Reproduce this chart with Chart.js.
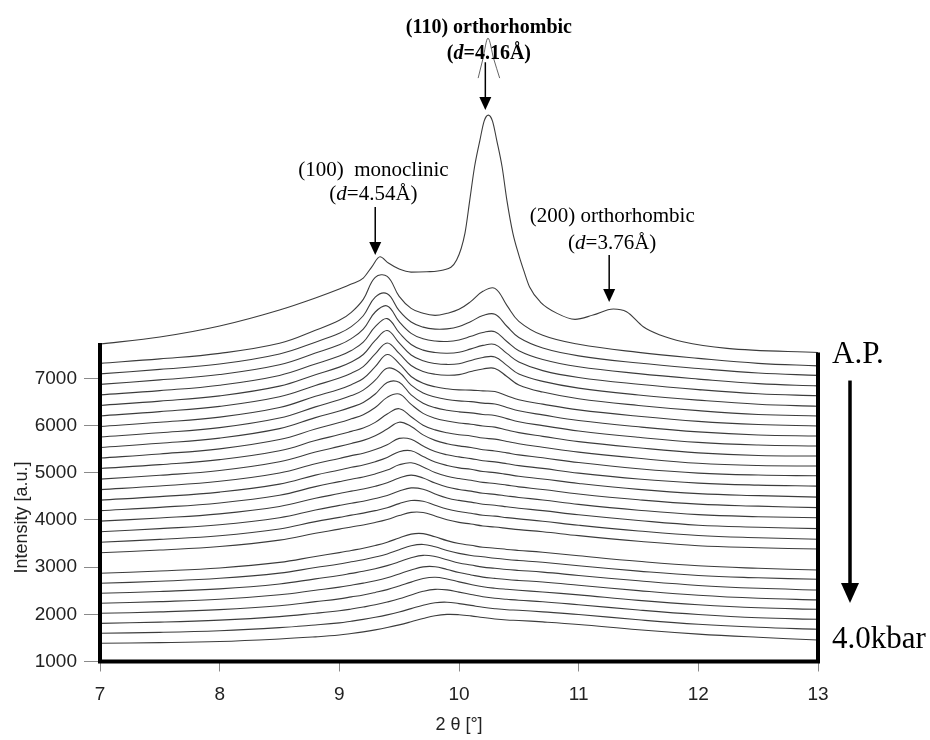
<!DOCTYPE html>
<html>
<head>
<meta charset="utf-8">
<script src="https://cdn.jsdelivr.net/npm/chart.js@4.4.0/dist/chart.umd.min.js"></script>
<style>
html, body { margin: 0; padding: 0; background: #fff; }
#wrap { width: 930px; height: 740px; }
</style>
</head>
<body>
<div id="wrap"><canvas id="xrd" width="930" height="740"></canvas></div>
<script>
// 2 theta grid shared by the stacked scans (deg)
const theta = [7, 7.5, 8, 8.5, 8.8, 9.0, 9.1, 9.2, 9.3, 9.4, 9.5, 9.6, 9.7, 9.8, 9.9, 10.0, 10.1, 10.2, 10.3, 10.4, 10.5, 10.7, 11.0, 11.5, 12, 12.5, 13];

// ambient pressure scan (top), sampled closer round the sharp (110) peak
const apTheta = [7, 7.5, 8, 8.5, 8.8, 9.0, 9.1, 9.2, 9.27, 9.34, 9.41, 9.5, 9.6, 9.73, 9.87, 9.98, 10.05, 10.09, 10.13, 10.175, 10.21, 10.245, 10.28, 10.315, 10.36, 10.4, 10.45, 10.5, 10.54, 10.59, 10.68, 10.82, 10.97, 11.12, 11.29, 11.4, 11.54, 11.68, 11.87, 12.24, 13];
const apIntensity = [7728, 7876, 8109, 8448, 8703, 8893, 8999, 9126, 9359, 9578, 9444, 9317, 9253, 9260, 9296, 9508, 10080, 10779, 11485, 12051, 12453, 12580, 12453, 12051, 11485, 10779, 10080, 9614, 9296, 8936, 8618, 8378, 8251, 8342, 8470, 8412, 8094, 7919, 7777, 7637, 7548];

// faint peak tip showing through the (110) label
const tipTheta = [10.16, 10.2, 10.242, 10.29, 10.34];
const tipIntensity = [13364, 13773, 14212, 13773, 13364];

// pressure steps, top to bottom (last one = 4.0 kbar)
const scan02 = [7319, 7414, 7531, 7743, 8018, 8230, 8400, 8675, 9141, 9163, 8739, 8484, 8379, 8336, 8379, 8463, 8633, 8845, 8908, 8548, 8209, 7912, 7722, 7552, 7425, 7319, 7266];
const scan03 = [7096, 7191, 7304, 7518, 7768, 7956, 8096, 8327, 8721, 8793, 8435, 8194, 8086, 8045, 8050, 8100, 8208, 8331, 8361, 8105, 7865, 7643, 7477, 7325, 7210, 7113, 7064];
const scan04 = [6873, 6968, 7081, 7288, 7536, 7712, 7843, 8043, 8407, 8536, 8202, 7954, 7839, 7791, 7782, 7814, 7892, 7973, 7990, 7782, 7587, 7401, 7248, 7100, 6985, 6888, 6841];
const scan05 = [6650, 6741, 6856, 7063, 7305, 7474, 7591, 7767, 8095, 8267, 7968, 7718, 7599, 7548, 7534, 7553, 7625, 7699, 7720, 7529, 7349, 7165, 7019, 6875, 6762, 6675, 6631];
const scan06 = [6427, 6518, 6630, 6836, 7078, 7239, 7347, 7506, 7804, 8014, 7751, 7495, 7372, 7315, 7296, 7311, 7381, 7444, 7455, 7275, 7092, 6936, 6794, 6649, 6539, 6452, 6410];
const scan07 = [6204, 6295, 6407, 6611, 6850, 7007, 7109, 7249, 7518, 7751, 7528, 7272, 7147, 7088, 7066, 7079, 7147, 7200, 7211, 7041, 6861, 6710, 6568, 6426, 6316, 6236, 6204];
const scan08 = [5981, 6070, 6180, 6384, 6621, 6771, 6867, 6998, 7248, 7505, 7314, 7041, 6896, 6822, 6780, 6757, 6752, 6735, 6721, 6634, 6549, 6454, 6333, 6197, 6089, 6023, 5992];
const scan09 = [5758, 5847, 5957, 6161, 6396, 6546, 6635, 6752, 6962, 7216, 7131, 6856, 6692, 6606, 6553, 6523, 6508, 6476, 6457, 6385, 6313, 6226, 6108, 5974, 5866, 5800, 5779];
const scan10 = [5535, 5624, 5734, 5935, 6169, 6308, 6391, 6489, 6669, 6914, 6917, 6650, 6474, 6380, 6325, 6291, 6270, 6236, 6215, 6147, 6082, 5999, 5885, 5751, 5643, 5588, 5567];
const scan11 = [5312, 5399, 5507, 5704, 5927, 6064, 6143, 6230, 6382, 6598, 6668, 6448, 6259, 6155, 6096, 6054, 6028, 5990, 5967, 5905, 5850, 5772, 5660, 5530, 5422, 5365, 5354];
const scan12 = [5089, 5172, 5278, 5466, 5682, 5809, 5877, 5947, 6068, 6244, 6358, 6187, 6009, 5909, 5848, 5807, 5780, 5735, 5712, 5663, 5615, 5542, 5437, 5307, 5201, 5153, 5142];
const scan13 = [4866, 4947, 5048, 5233, 5438, 5559, 5622, 5686, 5784, 5926, 6072, 5981, 5803, 5686, 5616, 5570, 5536, 5489, 5461, 5421, 5379, 5317, 5216, 5086, 4993, 4951, 4936];
const scan14 = [4643, 4719, 4819, 4995, 5192, 5304, 5363, 5414, 5491, 5594, 5728, 5711, 5567, 5450, 5380, 5336, 5300, 5255, 5230, 5192, 5152, 5092, 4993, 4868, 4781, 4738, 4717];
const scan15 = [4420, 4494, 4590, 4759, 4950, 5058, 5115, 5164, 5234, 5323, 5446, 5467, 5346, 5229, 5155, 5104, 5073, 5026, 5003, 4965, 4926, 4869, 4774, 4647, 4558, 4515, 4484];
const scan16 = [4197, 4267, 4360, 4523, 4706, 4812, 4864, 4911, 4975, 5057, 5168, 5212, 5123, 5006, 4926, 4877, 4841, 4797, 4773, 4737, 4701, 4646, 4551, 4428, 4335, 4292, 4261];
const scan17 = [3974, 4042, 4129, 4285, 4459, 4559, 4610, 4654, 4714, 4788, 4889, 4949, 4889, 4781, 4697, 4646, 4610, 4565, 4542, 4508, 4476, 4423, 4330, 4207, 4112, 4069, 4046];
const scan18 = [3751, 3817, 3897, 4048, 4211, 4308, 4355, 4397, 4455, 4520, 4613, 4679, 4652, 4552, 4467, 4414, 4378, 4334, 4313, 4279, 4247, 4198, 4109, 3988, 3889, 3846, 3815];
const scan19 = [3528, 3589, 3666, 3808, 3965, 4054, 4102, 4145, 4198, 4259, 4346, 4412, 4397, 4312, 4232, 4179, 4143, 4100, 4081, 4049, 4022, 3973, 3888, 3767, 3670, 3623, 3592];
const scan20 = [3305, 3362, 3436, 3572, 3718, 3805, 3852, 3894, 3947, 4011, 4093, 4161, 4159, 4083, 4004, 3949, 3913, 3873, 3850, 3822, 3794, 3750, 3667, 3549, 3453, 3411, 3383];
const scan21 = [2869, 2918, 2981, 3100, 3227, 3308, 3354, 3399, 3458, 3528, 3619, 3700, 3710, 3642, 3562, 3500, 3462, 3422, 3401, 3375, 3354, 3314, 3240, 3123, 3028, 2975, 2939];
const scan22 = [2657, 2701, 2763, 2873, 2992, 3066, 3113, 3157, 3214, 3280, 3369, 3452, 3481, 3430, 3352, 3291, 3248, 3219, 3187, 3161, 3140, 3102, 3030, 2916, 2822, 2774, 2742];
const scan23 = [2445, 2485, 2540, 2644, 2752, 2822, 2867, 2911, 2966, 3032, 3112, 3199, 3250, 3225, 3157, 3089, 3045, 3000, 2975, 2949, 2930, 2894, 2824, 2710, 2612, 2551, 2515];
const scan24 = [2233, 2269, 2320, 2415, 2511, 2576, 2617, 2661, 2712, 2775, 2856, 2939, 3006, 3009, 2951, 2886, 2835, 2788, 2761, 2737, 2718, 2684, 2617, 2502, 2403, 2339, 2305];
const scan25 = [2021, 2051, 2099, 2182, 2269, 2328, 2369, 2411, 2464, 2523, 2599, 2682, 2758, 2786, 2750, 2688, 2633, 2585, 2553, 2530, 2510, 2474, 2411, 2296, 2203, 2138, 2106];
const scan26 = [1809, 1834, 1877, 1951, 2023, 2076, 2112, 2154, 2201, 2260, 2328, 2411, 2487, 2529, 2517, 2470, 2421, 2373, 2339, 2318, 2298, 2267, 2203, 2091, 1995, 1926, 1894];
const scan27 = [1598, 1617, 1653, 1717, 1774, 1818, 1854, 1893, 1937, 1988, 2049, 2121, 2193, 2246, 2257, 2227, 2189, 2149, 2119, 2096, 2085, 2051, 1996, 1884, 1789, 1725, 1683];
const scan28 = [1386, 1399, 1424, 1477, 1522, 1560, 1592, 1628, 1670, 1719, 1776, 1842, 1912, 1971, 1998, 1992, 1967, 1931, 1901, 1880, 1869, 1839, 1784, 1672, 1581, 1513, 1456];

const xTickValues = [7, 8, 9, 10, 11, 12, 13];
const yTickValues = [1000, 2000, 3000, 4000, 5000, 6000, 7000];

const scans = [scan02, scan03, scan04, scan05, scan06, scan07, scan08, scan09, scan10,
  scan11, scan12, scan13, scan14, scan15, scan16, scan17, scan18, scan19, scan20,
  scan21, scan22, scan23, scan24, scan25, scan26, scan27, scan28];

// peak labels, placed in data units (2theta, intensity)
const peakMarks = [
  { x: 10.22, from: 13700, to: 12690, tx: 10.25, lines: [14318, 13767], bold: true,
    text: [[['(110) orthorhombic']], [['('], ['d', 1], ['=4.16Å)']]] },
  { x: 9.30, from: 10631, to: 9614, tx: 9.285, lines: [11288, 10779], bold: false,
    text: [[['(100)  monoclinic']], [['('], ['d', 1], ['=4.54Å)']]] },
  { x: 11.255, from: 9614, to: 8618, tx: 11.28, lines: [10313, 9741], bold: false,
    text: [[['(200) orthorhombic']], [['('], ['d', 1], ['=3.76Å)']]] }
];

const lineColor = '#3c3c3c';
const sans = '"Liberation Sans", Arial, sans-serif';
const serif = '"Liberation Serif", "Times New Roman", serif';

function toPoints(xs, ys) {
  return xs.map((t, i) => ({ x: t, y: ys[i] }));
}

const datasets = [
  { data: toPoints(apTheta, apIntensity), cubicInterpolationMode: 'monotone' },
  { data: toPoints(tipTheta, tipIntensity), cubicInterpolationMode: 'monotone', borderWidth: 0.8 }
].concat(scans.map(s => ({ data: toPoints(theta, s), tension: 0.4 })));

datasets.forEach(d => {
  d.borderColor = lineColor;
  if (!d.borderWidth) d.borderWidth = 1.1;
  d.pointRadius = 0;
  d.fill = false;
  d.clip = false;
});

function drawRuns(ctx, runs, cx, baseline, size, bold) {
  const w = bold ? 'bold ' : '';
  let total = 0;
  const fonts = runs.map(r => (r[1] ? 'italic ' : '') + w + size + 'px ' + serif);
  runs.forEach((r, i) => { ctx.font = fonts[i]; total += ctx.measureText(r[0]).width; });
  let xx = cx - total / 2;
  runs.forEach((r, i) => {
    ctx.font = fonts[i];
    ctx.fillText(r[0], xx, baseline);
    xx += ctx.measureText(r[0]).width;
  });
}

function arrowDown(ctx, x, y1, y2, lw, hw, hh) {
  ctx.lineWidth = lw;
  ctx.beginPath();
  ctx.moveTo(x, y1);
  ctx.lineTo(x, y2 - hh + 1);
  ctx.stroke();
  ctx.beginPath();
  ctx.moveTo(x - hw / 2, y2 - hh);
  ctx.lineTo(x + hw / 2, y2 - hh);
  ctx.lineTo(x, y2);
  ctx.closePath();
  ctx.fill();
}

const decorations = {
  id: 'decorations',
  afterDraw(chart) {
    const { ctx, chartArea, scales } = chart;
    const x = scales.x, y = scales.y;
    ctx.save();

    // frame: left, bottom, and right side up to the end of the top scan
    ctx.strokeStyle = '#000';
    ctx.lineWidth = 4;
    ctx.lineJoin = 'miter';
    ctx.beginPath();
    ctx.moveTo(chartArea.left, chartArea.top);
    ctx.lineTo(chartArea.left, chartArea.bottom);
    ctx.lineTo(chartArea.right, chartArea.bottom);
    ctx.lineTo(chartArea.right, y.getPixelForValue(apIntensity[apIntensity.length - 1]));
    ctx.stroke();

    // y axis title
    ctx.fillStyle = '#222';
    ctx.font = '18px ' + sans;
    ctx.textAlign = 'center';
    ctx.textBaseline = 'middle';
    ctx.save();
    ctx.translate(chartArea.left - 78, y.getPixelForValue(4050));
    ctx.rotate(-Math.PI / 2);
    ctx.fillText('Intensity [a.u.]', 0, 0);
    ctx.restore();

    // peak labels and arrows
    ctx.fillStyle = '#000';
    ctx.strokeStyle = '#000';
    ctx.textAlign = 'left';
    ctx.textBaseline = 'alphabetic';
    peakMarks.forEach(m => {
      const cx = x.getPixelForValue(m.tx);
      m.text.forEach((runs, i) => {
        drawRuns(ctx, runs, cx, y.getPixelForValue(m.lines[i]), m.bold ? 20 : 21, m.bold);
      });
      arrowDown(ctx, x.getPixelForValue(m.x), y.getPixelForValue(m.from), y.getPixelForValue(m.to), 1.5, 12, 13);
    });

    // pressure direction at the right
    const yTopEnd = y.getPixelForValue(apIntensity[apIntensity.length - 1]);
    const yBotEnd = y.getPixelForValue(scan28[scan28.length - 1]);
    ctx.font = '31px ' + serif;
    ctx.fillText('A.P.', chartArea.right + 14, yTopEnd + 10);
    ctx.fillText('4.0kbar', chartArea.right + 14, yBotEnd + 8);
    arrowDown(ctx, chartArea.right + 32, yTopEnd + 28, yBotEnd - 37, 3.5, 18, 20);

    ctx.restore();
  }
};

new Chart(document.getElementById('xrd'), {
  type: 'line',
  data: { datasets: datasets },
  options: {
    responsive: false,
    animation: false,
    devicePixelRatio: 1,
    layout: { padding: { top: 343, right: 112, left: 0, bottom: 0 } },
    elements: { line: { capBezierPoints: false } },
    plugins: { legend: { display: false }, tooltip: { enabled: false } },
    scales: {
      x: {
        type: 'linear',
        min: 7,
        max: 13,
        afterBuildTicks: s => { s.ticks = xTickValues.map(v => ({ value: v })); },
        afterFit: s => { s.height = 78.5; },
        grid: { drawOnChartArea: false, drawTicks: true, tickLength: 10, tickColor: '#8a8a8a', lineWidth: 1 },
        border: { display: false },
        ticks: { color: '#222', font: { family: sans, size: 19 }, padding: 12, autoSkip: false, maxRotation: 0,
          callback: v => String(v) },
        title: { display: true, text: '2 θ [°]', color: '#222', font: { family: sans, size: 18 }, padding: { top: 4, bottom: 4 } }
      },
      y: {
        type: 'linear',
        min: 1000,
        max: 7750,
        afterBuildTicks: s => { s.ticks = yTickValues.map(v => ({ value: v })); },
        afterFit: s => { s.width = 100; },
        grid: { drawOnChartArea: false, drawTicks: true, tickLength: 16, tickColor: '#8a8a8a', lineWidth: 1 },
        border: { display: false },
        ticks: { color: '#222', font: { family: sans, size: 19 }, padding: 7, autoSkip: false,
          callback: v => String(v) }
      }
    }
  },
  plugins: [decorations]
});
</script>
</body>
</html>
